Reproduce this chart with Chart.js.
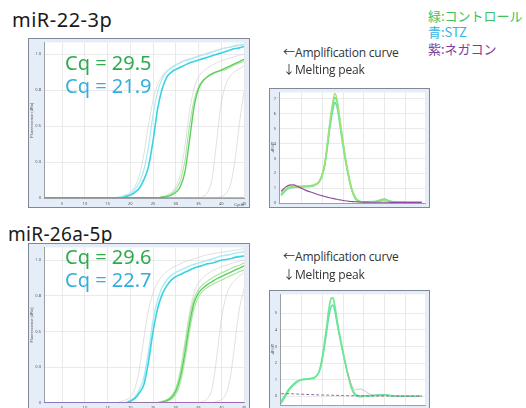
<!DOCTYPE html>
<html><head><meta charset="utf-8">
<script src="https://cdn.jsdelivr.net/npm/chart.js@4"></script>
<style>
body{margin:0;width:526px;height:408px;background:#fff;position:relative;overflow:hidden;font-family:"Noto Sans",sans-serif}
.t{position:absolute;white-space:nowrap;line-height:1}
.box{position:absolute;border:1px solid #7f8893;background:#e4edf8}
.box canvas{display:block}
.ttl{font-size:19px;color:#1a1a1a}
.cq{font-size:20px}
.note{font-family:"Open Sans",sans-serif;font-size:12px;color:#333;letter-spacing:-0.2px}
.ar{font-family:"Noto Sans CJK JP",sans-serif;font-size:12px;letter-spacing:0}
.lg{font-family:"Noto Sans CJK JP",sans-serif;font-size:13px}
</style></head><body>

<div class="t ttl" style="left:12px;top:9.5px;font-size:20px;letter-spacing:0.5px">miR-22-3p</div>
<div class="t ttl" style="left:8px;top:224.5px;letter-spacing:0.3px">miR-26a-5p</div>

<div class="box" style="left:28px;top:38px"><canvas id="amp1" width="220" height="168"></canvas></div>
<div class="box" style="left:28px;top:243px"><canvas id="amp2" width="220" height="168"></canvas></div>
<div class="box" style="left:269px;top:88px"><canvas id="melt1" width="159" height="118"></canvas></div>
<div class="box" style="left:269px;top:290px"><canvas id="melt2" width="159" height="120"></canvas></div>

<div class="t cq" style="left:65px;top:53px;color:#2eaa4c">Cq = 29.5</div>
<div class="t cq" style="left:65px;top:75.5px;color:#33aede">Cq = 21.9</div>
<div class="t cq" style="left:65px;top:247px;color:#2eaa4c">Cq = 29.6</div>
<div class="t cq" style="left:65px;top:269.5px;color:#33aede">Cq = 22.7</div>

<div class="t note" style="left:283px;top:46px"><span class="ar">←</span>Amplification curve</div>
<div class="t note" style="left:283px;top:62.5px"><span class="ar">↓</span>Melting peak</div>
<div class="t note" style="left:283px;top:250px"><span class="ar">←</span>Amplification curve</div>
<div class="t note" style="left:283px;top:267.5px"><span class="ar">↓</span>Melting peak</div>

<div class="t lg" style="left:428px;top:8.5px;color:#3cc25e">緑:コントロール</div>
<div class="t lg" style="left:428px;top:25.2px;color:#36b3e4">青:STZ</div>
<div class="t lg" style="left:428px;top:42px;color:#7b3d9e">紫:ネガコン</div>

<script>
// ---------- Amplification curves (x = cycle, y = normalized fluorescence) ----------
const cycles = [1,2,3,4,5,6,7,8,9,10,11,12,13,14,15,16,17,18,19,20,21,22,23,24,25,26,27,28,29,30,31,32,33,34,35,36,37,38,39,40,41,42,43,44,45];
const ampTicksX = [5,10,15,20,25,30,35,40,45];
const ampTicksY = [0,0.25,0.5,0.75,1];

// miR-22-3p
const amp1Cyan = [0,0,0,0,0,0,0,0,0,0,0,0,0,0,0,0,0,0,0.01,0.02,0.04,0.07,0.13,0.22,0.40,0.62,0.76,0.84,0.875,0.895,0.91,0.925,0.94,0.95,0.96,0.97,0.98,0.99,1.0,1.01,1.02,1.03,1.04,1.045,1.055];
const amp1CyanB = [0,0,0,0,0,0,0,0,0,0,0,0,0,0,0,0,0,0.01,0.02,0.03,0.06,0.11,0.20,0.36,0.58,0.74,0.83,0.88,0.905,0.925,0.94,0.955,0.965,0.975,0.985,0.995,1.005,1.015,1.025,1.035,1.045,1.05,1.06,1.065,1.07];
const amp1Green = [0,0,0,0,0,0,0,0,0,0,0,0,0,0,0,0,0,0,0,0,0,0,0,0,0,0,0.005,0.01,0.02,0.04,0.08,0.18,0.40,0.63,0.76,0.815,0.845,0.865,0.88,0.89,0.905,0.92,0.935,0.95,0.965];
const amp1GreenB = [0,0,0,0,0,0,0,0,0,0,0,0,0,0,0,0,0,0,0,0,0,0,0,0,0,0,0.01,0.015,0.03,0.06,0.12,0.26,0.50,0.68,0.775,0.82,0.845,0.86,0.875,0.885,0.895,0.91,0.925,0.94,0.95];
const amp1Gray1 = [0,0,0,0,0,0,0,0,0,0,0,0,0,0,0,0,0.005,0.01,0.02,0.04,0.08,0.16,0.31,0.51,0.68,0.79,0.85,0.885,0.91,0.93,0.945,0.96,0.97,0.98,0.99,1.0,1.01,1.02,1.03,1.04,1.045,1.05,1.055,1.06,1.065];
const amp1Gray2 = [0,0,0,0,0,0,0,0,0,0,0,0,0,0,0,0,0,0,0,0,0,0,0,0,0,0,0.01,0.02,0.04,0.08,0.17,0.36,0.60,0.76,0.84,0.88,0.905,0.925,0.94,0.955,0.965,0.975,0.985,0.995,1.0];
const amp1Gray3 = [0,0,0,0,0,0,0,0,0,0,0,0,0,0,0,0,0,0,0,0,0,0,0,0,0,0,0,0,0,0,0,0,0,0,0,0.01,0.04,0.14,0.40,0.66,0.79,0.85,0.88,0.90,0.92];
const amp1Gray4 = [0,0,0,0,0,0,0,0,0,0,0,0,0,0,0,0,0,0,0,0,0,0,0,0,0,0,0,0,0,0,0,0,0,0,0,0,0,0,0,0.01,0.03,0.09,0.26,0.52,0.74];
const amp1Purple = [0,0,0,0,0,0,0,0,0,0,0,0,0,0,0,0,0,0,0,0,0,0,0,0,0,0,0,0,0,0,0,0,0,0,0,0,0,0,0,0,0,0,0,0,0];

// miR-26a-5p
const amp2Cyan = [0,0,0,0,0,0,0,0,0,0,0,0,0,0,0,0,0,0,0,0.01,0.03,0.07,0.13,0.29,0.50,0.66,0.76,0.82,0.86,0.885,0.90,0.915,0.93,0.945,0.955,0.965,0.975,0.98,0.99,1.0,1.005,1.01,1.02,1.025,1.03];
const amp2CyanB = [0,0,0,0,0,0,0,0,0,0,0,0,0,0,0,0,0,0,0,0.02,0.04,0.09,0.18,0.36,0.58,0.72,0.81,0.86,0.895,0.915,0.93,0.945,0.96,0.97,0.98,0.99,1.0,1.01,1.02,1.03,1.035,1.04,1.05,1.055,1.06];
const amp2Green = [0,0,0,0,0,0,0,0,0,0,0,0,0,0,0,0,0,0,0,0,0,0,0,0,0,0,0.005,0.015,0.035,0.08,0.18,0.35,0.55,0.70,0.77,0.805,0.83,0.85,0.87,0.885,0.90,0.915,0.93,0.945,0.96];
const amp2GreenB = [0,0,0,0,0,0,0,0,0,0,0,0,0,0,0,0,0,0,0,0,0,0,0,0,0,0,0,0.01,0.025,0.06,0.14,0.30,0.50,0.66,0.745,0.785,0.81,0.83,0.845,0.86,0.875,0.89,0.905,0.92,0.93];
const amp2GreenC = [0,0,0,0,0,0,0,0,0,0,0,0,0,0,0,0,0,0,0,0,0,0,0,0,0,0,0.01,0.02,0.045,0.10,0.22,0.41,0.60,0.73,0.795,0.83,0.855,0.875,0.895,0.91,0.925,0.94,0.955,0.965,0.98];
const amp2Gray1 = [0,0,0,0,0,0,0,0,0,0,0,0,0,0,0,0,0,0.01,0.02,0.04,0.10,0.24,0.46,0.65,0.77,0.84,0.89,0.92,0.945,0.96,0.975,0.99,1.0,1.01,1.02,1.03,1.04,1.045,1.05,1.055,1.06,1.065,1.07,1.075,1.08];
const amp2Gray2 = [0,0,0,0,0,0,0,0,0,0,0,0,0,0,0,0,0,0,0,0,0,0,0,0,0,0,0.01,0.02,0.05,0.10,0.22,0.42,0.63,0.77,0.84,0.88,0.905,0.925,0.94,0.955,0.965,0.975,0.985,0.995,1.0];
const amp2Gray3 = [0,0,0,0,0,0,0,0,0,0,0,0,0,0,0,0,0,0,0,0,0,0,0,0,0,0,0,0,0,0,0,0,0,0,0,0.01,0.03,0.10,0.32,0.58,0.74,0.82,0.86,0.89,0.91];
const amp2Gray4 = [0,0,0,0,0,0,0,0,0,0,0,0,0,0,0,0,0,0,0,0,0,0,0,0,0,0,0,0,0,0,0,0,0,0,0,0,0,0,0.01,0.02,0.06,0.18,0.42,0.66,0.80];
const amp2Purple = [0,0,0,0,0,0,0,0,0,0,0,0,0,0,0,0,0,0,0,0,0,0,0,0,0,0,0,0,0,0,0,0,0,0,0,0,0,0,0,0,0,0,0,0,0];

// ---------- Melting peaks (x = temperature, y = -dF/dT) ----------
const temps = [65,66,67,68,69,70,71,72,73,74,74.5,75,75.5,76,76.5,77,77.5,78,78.5,79,79.5,80,80.5,81,81.5,82,83,84,85,86,87,88,89,90,91,92,93,94,95,96,97,98,99];
const meltTicksX = [65,70,75,80,85,90,95];

const melt1Green = [0.62,0.90,1.08,1.12,1.12,1.13,1.15,1.17,1.22,1.40,1.62,2.0,2.6,3.6,4.8,5.9,6.8,7.38,7.0,6.1,5.0,4.0,3.1,2.3,1.6,0.95,0.25,0.08,0.07,0.07,0.08,0.09,0.14,0.2,0.12,0.07,0.05,0.04,0.04,0.03,0.03,0.03,0.03];
const melt1GreenB = [0.5,0.82,1.0,1.05,1.06,1.07,1.09,1.12,1.17,1.35,1.55,1.9,2.45,3.35,4.45,5.45,6.25,6.75,6.5,5.7,4.7,3.8,2.95,2.2,1.55,0.95,0.3,0.1,0.08,0.08,0.09,0.12,0.2,0.27,0.15,0.08,0.05,0.04,0.04,0.03,0.03,0.03,0.03];
const melt1GreenC = [0.56,0.86,1.04,1.09,1.1,1.11,1.13,1.15,1.2,1.38,1.58,1.95,2.5,3.45,4.6,5.7,6.55,7.1,6.85,6.0,5.0,4.05,3.15,2.35,1.65,1.05,0.35,0.12,0.08,0.08,0.08,0.1,0.16,0.22,0.13,0.07,0.05,0.04,0.04,0.03,0.03,0.03,0.03];
const melt1Purple = [0.78,1.05,1.2,1.22,1.12,0.97,0.85,0.75,0.65,0.56,0.52,0.48,0.44,0.41,0.37,0.34,0.31,0.28,0.25,0.22,0.2,0.17,0.15,0.13,0.11,0.1,0.08,0.07,0.06,0.06,0.05,0.05,0.05,0.05,0.05,0.04,0.04,0.04,0.04,0.04,0.04,0.04,0.04];

const melt2Green = [-0.43,0.0,0.4,0.68,0.88,0.99,1.02,1.05,1.1,1.4,1.8,2.45,3.3,4.2,5.2,5.85,5.95,5.4,4.6,3.9,3.25,2.6,2.0,1.45,0.95,0.5,0.05,-0.02,0.0,0.02,0.03,0.05,0.07,0.08,0.05,0.02,0,0,0,0,0,0,0];
const melt2GreenB = [-0.3,0.1,0.48,0.74,0.92,1.01,1.04,1.07,1.13,1.38,1.72,2.3,3.05,3.9,4.75,5.35,5.5,5.1,4.4,3.75,3.15,2.55,1.98,1.45,0.98,0.55,0.1,0.02,0.01,0.03,0.04,0.06,0.08,0.09,0.06,0.03,0.01,0,0,0,0,0,0];
const melt2Gray = [null,null,null,null,null,null,null,null,null,null,null,null,null,null,null,null,null,null,null,null,null,null,null,1.5,1.05,0.7,0.38,0.44,0.36,0.18,0.07,0.05,0.06,0.07,null,null,null,null,null,null,null,null,null];
const melt2Purple = [0.14,0.15,0.15,0.14,0.13,0.12,0.11,0.1,0.09,0.08,0.08,0.07,0.07,0.07,0.06,0.06,0.06,0.05,0.05,0.05,0.04,0.04,0.04,0.03,0.03,0.03,0.03,0.02,0.02,0.02,0.02,0.01,0.01,0.01,0.01,0.01,0,0,0,0,0,0,0];

// ---------- helpers ----------
const whiteArea = {id:'whiteArea', beforeDraw(c){const a=c.chartArea,ctx=c.ctx;ctx.save();ctx.fillStyle='#fff';ctx.fillRect(a.left,a.top,a.right-a.left,a.bottom-a.top);ctx.restore();}};
function pts(xs, ys){return xs.map((x,i)=>({x:x,y:ys[i]}));}
function ds(xs, ys, color, w, extra){return Object.assign({data:pts(xs,ys),borderColor:color,borderWidth:w,pointRadius:0,fill:false,cubicInterpolationMode:'monotone',spanGaps:false},extra||{});}
function keep(list){return s=>{s.ticks=s.ticks.filter(t=>list.some(v=>Math.abs(v-t.value)<1e-6));};}
const tickFont={size:4,family:'Noto Sans'};
function makeChart(id, datasets, o){
  return new Chart(document.getElementById(id),{
    type:'line',
    data:{datasets:datasets},
    plugins:[whiteArea],
    options:{
      responsive:false,animation:false,
      layout:{padding:{left:0,top:o.padTop,right:o.padRight,bottom:0}},
      plugins:{legend:{display:false},tooltip:{enabled:false}},
      scales:{
        x:{type:'linear',min:o.xMin,max:o.xMax,
          ticks:{stepSize:5,autoSkip:false,maxRotation:0,font:tickFont,color:'#555',padding:1},
          afterBuildTicks:keep(o.xTicks),
          afterFit:s=>{s.height=o.xH;},
          grid:{color:'#e4e4e4',lineWidth:0.8,tickLength:2},
          border:{color:'#9aa0a6'},
          title:{display:!!o.xTitle,text:o.xTitle||'',font:{size:4},color:'#555',align:'end',padding:0}},
        y:{min:o.yMin,max:o.yMax,
          ticks:{stepSize:o.yStep,autoSkip:false,font:tickFont,color:'#555',padding:1},
          afterBuildTicks:keep(o.yTicks),
          afterFit:s=>{s.width=o.yW;},
          grid:{color:'#e4e4e4',lineWidth:0.8,tickLength:2},
          border:{color:'#9aa0a6'},
          title:{display:true,text:o.yTitle,font:{size:4},color:'#555',padding:0}}
      }
    }
  });
}

const GRAY='rgba(205,196,202,0.55)', CYAN='#3dd0e2', CYANL='#a6ecf2', GREEN='#5ccf5c', GREENL='#a9e6a2', PURPLE='#9b57b5';

makeChart('amp1',[
  ds(cycles,amp1Purple,PURPLE,1.2),
  ds(cycles,amp1Cyan,CYAN,1.6),
  ds(cycles,amp1CyanB,CYANL,1.2),
  ds(cycles,amp1Green,GREEN,1.4),
  ds(cycles,amp1GreenB,GREENL,1.1),
  ds(cycles,amp1Gray1,GRAY,1),
  ds(cycles,amp1Gray2,GRAY,1),
  ds(cycles,amp1Gray3,GRAY,1),
  ds(cycles,amp1Gray4,GRAY,1)
],{padTop:2,padRight:5,xMin:1,xMax:45,xTicks:ampTicksX,xH:9,xTitle:'Cycle',yMin:0,yMax:1.083,yStep:0.25,yTicks:ampTicksY,yW:15,yTitle:'Fluorescence (dRn)'});

makeChart('amp2',[
  ds(cycles,amp2Purple,PURPLE,1.2),
  ds(cycles,amp2Cyan,CYAN,1.6),
  ds(cycles,amp2CyanB,CYANL,1.4),
  ds(cycles,amp2Green,GREEN,1.4),
  ds(cycles,amp2GreenB,GREENL,1.2),
  ds(cycles,amp2GreenC,GREENL,1.2),
  ds(cycles,amp2Gray1,GRAY,1),
  ds(cycles,amp2Gray2,GRAY,1),
  ds(cycles,amp2Gray3,GRAY,1),
  ds(cycles,amp2Gray4,GRAY,1)
],{padTop:2,padRight:5,xMin:1,xMax:45,xTicks:ampTicksX,xH:9.3,xTitle:'Cycle',yMin:0,yMax:1.09,yStep:0.25,yTicks:ampTicksY,yW:15,yTitle:'Fluorescence (dRn)'});

makeChart('melt1',[
  ds(temps,melt1Purple,'#8a4a9e',1.1),
  ds(temps,melt1Green,'#a8e070',1.4),
  ds(temps,melt1GreenC,'#6ee890',1.6),
  ds(temps,melt1GreenB,'#5fe0b0',1.6)
],{padTop:1,padRight:4,xMin:64.5,xMax:99.8,xTicks:meltTicksX,xH:4,yMin:0,yMax:7.44,yStep:1,yTicks:[0,1,2,3,4,5,6,7],yW:9,yTitle:'-dF/dT'});

makeChart('melt2',[
  ds(temps,melt2Purple,'#8a6a9a',1,{borderDash:[3,2]}),
  ds(temps,melt2Gray,'rgba(190,170,175,0.8)',0.9),
  ds(temps,melt2Green,'#6ee890',1.7),
  ds(temps,melt2GreenB,'#5fe0b0',1.5)
],{padTop:0,padRight:4,xMin:64.7,xMax:99.8,xTicks:meltTicksX,xH:6,yMin:-0.53,yMax:6.14,yStep:1,yTicks:[0,1,2,3,4,5,6],yW:10,yTitle:'-dF/dT'});
</script>
</body></html>
